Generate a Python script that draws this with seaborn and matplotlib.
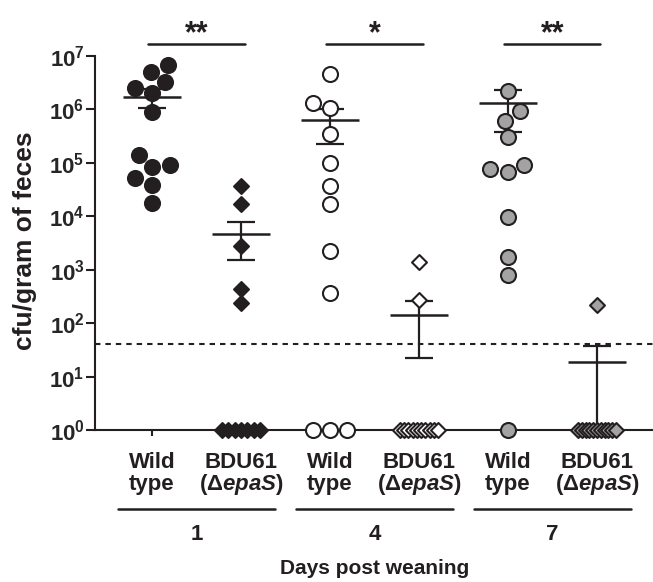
import numpy as np
import seaborn as sns
import matplotlib
matplotlib.use("Agg")
import matplotlib.pyplot as plt
from matplotlib.ticker import NullLocator
from matplotlib.transforms import blended_transform_factory

# cfu / gram of feces, one value per mouse (0 = not detected, drawn on the axis)
wt_day1 = [6.8e6, 5.1e6, 3.3e6, 2.5e6, 2.0e6, 9.1e5, 1.4e5, 9.1e4, 8.5e4, 5.1e4, 3.9e4, 1.75e4]
bdu_day1 = [3.7e4, 1.7e4, 2.8e3, 430, 235, 0, 0, 0, 0, 0, 0, 0]
wt_day4 = [4.7e6, 1.3e6, 1.05e6, 3.4e5, 1.0e5, 3.7e4, 1.7e4, 2.2e3, 360, 0, 0, 0]
bdu_day4 = [1400, 270, 0, 0, 0, 0, 0, 0, 0, 0, 0, 0]
wt_day7 = [2.2e6, 9.3e5, 6.2e5, 3.0e5, 9.1e4, 7.7e4, 6.7e4, 9.8e3, 1.7e3, 800, 0]
bdu_day7 = [220, 0, 0, 0, 0, 0, 0, 0, 0, 0, 0, 0]

# mean +/- SEM as drawn in the figure
means = [1.73e6, 4.75e3, 6.3e5, 142, 1.33e6, 19]
sems = [6.7e5, 3.2e3, 4.0e5, 120, 9.6e5, 18.5]

days = ["1", "4", "7"]
significance = ["**", "*", "**"]
strain_labels = [("Wild", "type"), ("BDU61", "(Δ$\\mathbfit{epaS}$)")]
detection_limit = 40

INK = "#231f20"
GREY = "#a3a3a3"
W, H = 653, 582

sns.set_theme(style="ticks")
plt.rcParams["font.family"] = ["Liberation Sans", "DejaVu Sans"]
plt.rcParams["font.weight"] = "bold"
plt.rcParams["mathtext.fontset"] = "custom"
plt.rcParams["mathtext.rm"] = "Liberation Sans:bold"
plt.rcParams["mathtext.bf"] = "Liberation Sans:bold"
plt.rcParams["mathtext.bfit"] = "Liberation Sans:italic:bold"
plt.rcParams["text.color"] = INK

fig = plt.figure(figsize=(W / 100, H / 100), dpi=100)
ax = fig.add_axes([95 / W, 1 - 430 / H, 1 - 95 / W, 374 / H])
ax.set_yscale("log")

series = [wt_day1, bdu_day1, wt_day4, bdu_day4, wt_day7, bdu_day7]
markers = ["o", "D"] * 3
faces = [INK, INK, "white", "white", GREY, GREY]
sizes = {"o": 10.8, "D": 7.6}
px_per_unit = 88.8

for pos, (vals, mk, fc) in enumerate(zip(series, markers, faces)):
    vals = np.asarray(vals, dtype=float)
    detected = vals[vals > 0]
    sns.swarmplot(x=np.full(len(detected), pos), y=detected, native_scale=True,
                  orient="x", marker=mk, color=fc, edgecolor=INK, linewidth=1.5,
                  size=sizes[mk], zorder=3, ax=ax)
    # undetected mice sit in a tight row on the x axis
    n_zero = int((vals == 0).sum())
    if n_zero:
        diam = sizes[mk] * (1.41 if mk == "D" else 1.0) * 100 / 72 + 2
        step = min(diam, 38 / max(n_zero - 1, 1)) / px_per_unit
        dx = (np.arange(n_zero) - (n_zero - 1) / 2) * step
        ax.scatter(pos + dx, np.ones(n_zero), marker=mk, s=sizes[mk] ** 2,
                   c=fc, edgecolors=INK, linewidths=1.5, zorder=3, clip_on=False)

# mean line and SEM whiskers
for pos, (m, e) in enumerate(zip(means, sems)):
    ax.hlines(m, pos - 0.33, pos + 0.33, color=INK, lw=1.8, zorder=2)
    ax.errorbar(pos, m, yerr=e, fmt="none", ecolor=INK, elinewidth=1.6,
                capsize=10, capthick=1.6, zorder=2)

ax.axhline(detection_limit, color=INK, lw=1.5, ls=(0, (2.6, 2.4)), zorder=1)

# significance bars above the plot
for k, star in enumerate(significance):
    ax.plot([2 * k - 0.04, 2 * k + 1.04], [10 ** 7.224] * 2, color=INK, lw=1.8,
            clip_on=False)
    ax.text(2 * k + 0.5, 10 ** 7.26, star, ha="center", va="baseline",
            fontsize=22, fontweight="bold")

ax.set_xlim(-0.64, 5.63)
ax.set_ylim(1, 1e7)
ax.set_yticks([10 ** k for k in range(8)])
ax.set_yticklabels([rf"$\mathbf{{10^{{{k}}}}}$" for k in range(8)])
ax.yaxis.set_minor_locator(NullLocator())
ax.set_xticks(range(6))
ax.set_xticklabels([])
ax.tick_params(axis="y", length=6.5, width=1.5, pad=1, labelsize=16, color=INK)
ax.tick_params(axis="x", length=4, width=1.5, color=INK)
sns.despine(ax=ax)
for side in ["left", "bottom"]:
    ax.spines[side].set_linewidth(1.5)
    ax.spines[side].set_color(INK)

# group labels under the axis
trans = blended_transform_factory(ax.transData, fig.transFigure)
def fy(px):
    return 1 - px / H

for pos in range(6):
    top, bottom = strain_labels[pos % 2]
    ax.text(pos, fy(468), top, transform=trans, ha="center", va="baseline",
            fontsize=16, fontweight="bold")
    ax.text(pos, fy(490), bottom, transform=trans, ha="center", va="baseline",
            fontsize=16, fontweight="bold")

for k, day in enumerate(days):
    mid = 2 * k + 0.5
    ax.plot([mid - 0.88, mid + 0.88], [fy(509)] * 2, transform=trans, color=INK,
            lw=1.8, clip_on=False)
    ax.text(mid, fy(540), day, transform=trans, ha="center", va="baseline",
            fontsize=16, fontweight="bold")

ax.text(2.5, fy(574), "Days post weaning", transform=trans, ha="center",
        va="baseline", fontsize=15, fontweight="bold")
fig.text(25 / W, fy(241), "cfu/gram of feces", rotation=90, ha="center",
         va="center", fontsize=19, fontweight="bold")

fig.savefig("out.png", dpi=100)
